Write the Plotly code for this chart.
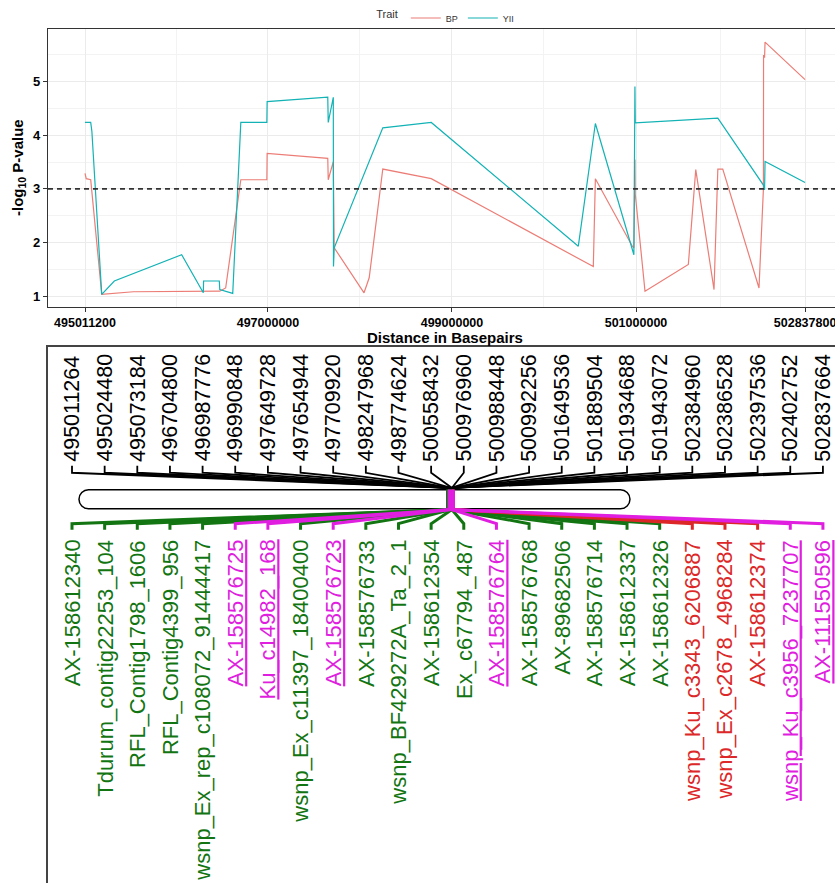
import plotly.graph_objects as go

# ---- association scan along the interval (-log10 P) ----
bp_pos = [495011264, 495024480, 495073184, 495110000, 495193000, 495536000,
          496476000, 496540000, 496704800, 496987776, 496990848, 497649728,
          497654944, 497709920, 497712000, 497720000, 498044000, 498100000,
          498247968, 498774624, 500536000, 500558432, 500960000, 500976960,
          500988448, 500992256, 501098000, 501569000, 501649536, 501848000,
          501889504, 501943072, 502337000, 502384960, 502386528, 502397536,
          502402752, 502837664]
bp_logp = [3.29, 3.19, 3.17, 2.50, 1.03, 1.08,
           1.09, 1.15, 3.17, 3.17, 3.66, 3.57,
           3.17, 3.51, 2.50, 1.90, 1.06, 1.34,
           3.37, 3.19, 1.55, 3.19, 1.93, 1.90,
           3.55, 2.90, 1.09, 1.59, 3.36, 1.12,
           3.37, 3.37, 1.15, 3.00, 5.50, 5.45,
           5.74, 5.04]

yii_pos = [495011264, 495024480, 495073184, 495086000, 495193000, 495330000,
           496062000, 496297000, 496300000, 496471000, 496476000, 496617000,
           496704800, 496987776, 496990848, 497649728, 497654944, 497709920,
           497712000, 497720000, 498247968, 498774624, 500373000, 500558432,
           500976960, 500988448, 500992256, 501889504, 502384960, 502397536,
           502402752, 502837664]
yii_logp = [4.24, 4.24, 4.24, 4.07, 1.03, 1.28,
            1.77, 1.06, 1.28, 1.28, 1.12, 1.05,
            4.24, 4.24, 4.63, 4.71, 4.24, 4.71,
            1.55, 1.90, 4.14, 4.24, 1.93, 4.22,
            1.77, 4.91, 4.23, 4.32, 3.07, 2.98,
            3.51, 3.12]

threshold = 3
x_ticks = [495011200, 497000000, 499000000, 501000000, 502837800]
y_ticks = [1, 2, 3, 4, 5]

# ---- linkage map of the interval ----
marker_pos = [495011264, 495024480, 495073184, 496704800, 496987776, 496990848,
              497649728, 497654944, 497709920, 498247968, 498774624, 500558432,
              500976960, 500988448, 500992256, 501649536, 501889504, 501934688,
              501943072, 502384960, 502386528, 502397536, 502402752, 502837664]
marker_names = ["AX-158612340", "Tdurum_contig22253_104", "RFL_Contig1798_1606",
                "RFL_Contig4399_956", "wsnp_Ex_rep_c108072_91444417", "AX-158576725",
                "Ku_c14982_168", "wsnp_Ex_c11397_18400400", "AX-158576723",
                "AX-158576733", "wsnp_BF429272A_Ta_2_1", "AX-158612354",
                "Ex_c67794_487", "AX-158576764", "AX-158576768", "AX-89682506",
                "AX-158576714", "AX-158612337", "AX-158612326",
                "wsnp_Ku_c3343_6206887", "wsnp_Ex_c2678_4968284", "AX-158612374",
                "wsnp_Ku_c3956_7237707", "AX-111550596"]
marker_class = [1, 1, 1, 1, 1, 2, 2, 1, 2, 1, 1, 1,
                1, 2, 1, 1, 1, 1, 1, 3, 3, 3, 2, 2]
chrom_length = 740_000_000

# ---- styling ----
W, H = 835, 883
BP_COL, YII_COL = "#EC7D76", "#12B2B5"
CLASS_COL = {1: "#127512", 2: "#E01EE0", 3: "#DC2828"}
CLASS_ORDER = [1, 3, 2]
LABEL_FONT = "Liberation Sans, Arial"
AXIS_FONT = "Liberation Sans, Arial"

x_dom = [48 / W, 1.0]
top_dom = [1 - 307 / H, 1 - 29 / H]
bot_dom = [0.0, 1 - 347 / H]

fig = go.Figure()

fig.add_trace(go.Scatter(x=bp_pos, y=bp_logp, mode="lines", name="BP",
                         line=dict(color=BP_COL, width=1.2)))
fig.add_trace(go.Scatter(x=yii_pos, y=yii_logp, mode="lines", name="YII",
                         line=dict(color=YII_COL, width=1.2)))
fig.add_hline(y=threshold, line=dict(color="#333333", width=1.6, dash="5px,4px"))

# ---- linkage map geometry (x in label slots, y in panel units downwards) ----
slot_range = [-0.735, 23.37]
px_per_slot = (W * (x_dom[1] - x_dom[0])) / (slot_range[1] - slot_range[0])
chrom_left, chrom_right = 0.214, 17.09
cap_top, cap_bot = 143, 162
top_text_base, top_hook = 116, (119, 126)
top_join = 141
bot_join = 163
bot_hook = (177, 183)
bot_text_top = 192

slots = list(range(len(marker_pos)))
chrom_x = [chrom_left + p / chrom_length * (chrom_right - chrom_left) for p in marker_pos]

# connectors from position labels to the chromosome
cx, cy = [], []
for s, c in zip(slots, chrom_x):
    cx += [s, s, c, c, None]
    cy += [top_hook[0], top_hook[1], top_join, cap_top, None]
fig.add_trace(go.Scatter(x=cx, y=cy, mode="lines", xaxis="x2", yaxis="y2",
                         line=dict(color="black", width=1.8), showlegend=False,
                         hoverinfo="skip"))

# chromosome outline (capsule)
ry = (cap_bot - cap_top) / 2
rx = ry / px_per_slot
yc = (cap_top + cap_bot) / 2
k = 0.5523
xl, xr = chrom_left, chrom_right
cap_path = (
    f"M {xl+rx},{cap_top} L {xr-rx},{cap_top} "
    f"C {xr-rx+k*rx},{cap_top} {xr},{yc-k*ry} {xr},{yc} "
    f"C {xr},{yc+k*ry} {xr-rx+k*rx},{cap_bot} {xr-rx},{cap_bot} "
    f"L {xl+rx},{cap_bot} "
    f"C {xl+rx-k*rx},{cap_bot} {xl},{yc+k*ry} {xl},{yc} "
    f"C {xl},{yc-k*ry} {xl+rx-k*rx},{cap_top} {xl+rx},{cap_top} Z"
)
fig.add_shape(type="path", path=cap_path, xref="x2", yref="y2",
              line=dict(color="black", width=1.5), fillcolor="white", layer="below")

# marker ticks on the chromosome and connectors to the marker names
for cls in CLASS_ORDER:
    mx, my = [], []
    for s, c, m in zip(slots, chrom_x, marker_class):
        if m != cls:
            continue
        mx += [c, c, c, s, s, None]
        my += [cap_top, cap_bot, bot_join, bot_hook[0], bot_hook[1], None]
    fig.add_trace(go.Scatter(x=mx, y=my, mode="lines", xaxis="x2", yaxis="y2",
                             line=dict(color=CLASS_COL[cls], width=3),
                             showlegend=False, hoverinfo="skip"))

annotations = []
for s, p in zip(slots, marker_pos):
    annotations.append(dict(x=s, y=top_text_base, xref="x2", yref="y2", text=str(p),
                            textangle=-90, showarrow=False, xanchor="center",
                            yanchor="bottom", borderpad=0,
                            font=dict(family=LABEL_FONT, size=21.5, color="black")))
for s, name, m in zip(slots, marker_names, marker_class):
    f = dict(family=LABEL_FONT, size=22, color=CLASS_COL[m])
    if m == 2:
        f["lineposition"] = "under"
    annotations.append(dict(x=s, y=bot_text_top, xref="x2", yref="y2", text=name,
                            textangle=-90, showarrow=False, xanchor="center",
                            yanchor="top", borderpad=0, font=f))

# axis titles of the scan panel
annotations.append(dict(x=445 / W, y=1 - 337 / H, xref="paper", yref="paper",
                        xanchor="center", yanchor="middle",
                        text="<b>Distance in Basepairs</b>", showarrow=False,
                        font=dict(family=AXIS_FONT, size=15, color="black")))
annotations.append(dict(x=18 / W, y=(top_dom[0] + top_dom[1]) / 2, xref="paper",
                        yref="paper", xanchor="center", yanchor="middle",
                        text="<b>-log<sub>10</sub> P-value</b>",
                        textangle=-90, showarrow=False,
                        font=dict(family=AXIS_FONT, size=15, color="black")))

grid = "#EBEBEB"
fig.update_layout(
    width=W, height=H, margin=dict(l=0, r=0, t=0, b=0),
    paper_bgcolor="white", plot_bgcolor="white",
    xaxis=dict(domain=x_dom, anchor="y", range=[494609000, 503163000],
               tickmode="array", tickvals=x_ticks,
               ticktext=[str(v) for v in x_ticks],
               ticklabeloverflow="allow",
               showgrid=True, gridcolor=grid, gridwidth=1,
               minor=dict(tickmode="array",
                          tickvals=[(a + b) / 2 for a, b in zip(x_ticks[:-1], x_ticks[1:])],
                          showgrid=True, gridcolor="#F3F3F3", gridwidth=0.8),
               showline=True, mirror=True, linecolor="#333333", linewidth=1.2,
               ticks="outside", ticklen=4, tickcolor="#333333", zeroline=False,
               tickfont=dict(family=AXIS_FONT, size=12.5, color="black", weight="bold")),
    yaxis=dict(domain=top_dom, anchor="x", range=[0.795, 5.984],
               tickmode="array", tickvals=y_ticks,
               showgrid=True, gridcolor=grid, gridwidth=1,
               minor=dict(tickmode="array", tickvals=[v + 0.5 for v in y_ticks],
                          showgrid=True, gridcolor="#F3F3F3", gridwidth=0.8),
               showline=True, linecolor="#333333", linewidth=1.2,
               ticks="outside", ticklen=4, tickcolor="#333333", zeroline=False,
               tickfont=dict(family=AXIS_FONT, size=13, color="black", weight="bold")),
    xaxis2=dict(domain=x_dom, anchor="y2", range=slot_range, side="top",
                showgrid=False, zeroline=False, showticklabels=False, ticks="",
                showline=True, linecolor="#444444", linewidth=1.5),
    yaxis2=dict(domain=bot_dom, anchor="x2", range=[537, 0],
                showgrid=False, zeroline=False, showticklabels=False, ticks="",
                showline=True, linecolor="#444444", linewidth=1.5),
    legend=dict(orientation="h", x=0.535, xanchor="center", y=1 - 18 / H,
                yanchor="middle", itemwidth=30, bgcolor="rgba(0,0,0,0)",
                title=dict(text="Trait", font=dict(family=AXIS_FONT, size=11, color="#333333")),
                font=dict(family=AXIS_FONT, size=9, color="#333333")),
    annotations=annotations,
    showlegend=True,
)

fig.write_html("out.html")
